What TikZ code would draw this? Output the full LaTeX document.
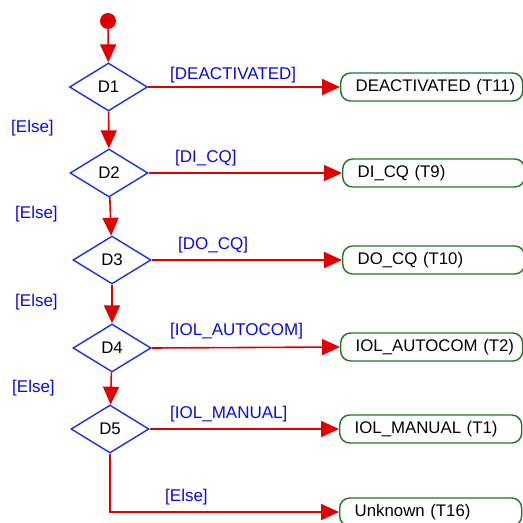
\documentclass[tikz,border=0pt]{standalone}
\usepackage{fontspec}
\setmainfont{Liberation Sans}
\usetikzlibrary{shapes.geometric,arrows.meta}
\definecolor{flowred}{RGB}{225,0,0}
\definecolor{guardblue}{RGB}{10,10,230}
\definecolor{decblue}{RGB}{25,50,220}
\definecolor{endgreen}{RGB}{30,120,30}
\begin{document}
\begin{tikzpicture}[
  x=1pt, y=-1pt,
  font=\fontsize{16.8}{18}\selectfont,
  decision/.style={draw=decblue, line width=1.4pt, diamond, minimum width=78pt, minimum height=48pt, inner sep=0pt},
  endstate/.style={draw=endgreen, line width=1.4pt, rounded corners=10pt, minimum height=28pt, text width=152pt, inner xsep=15pt, align=left},
  guard/.style={text=guardblue, anchor=west, inner sep=0pt, font=\fontsize{17}{18}\selectfont},
  flow/.style={draw=flowred, line width=1.6pt, -{Triangle[length=18pt,width=16pt]}}
]
\useasboundingbox (0,0) rectangle (523,523);
\node[circle, fill=flowred, minimum size=16pt, inner sep=0pt] (start) at (108,21) {};
\node[decision] (d1) at (108.5,87) {D1};
\node[decision] (d2) at (109,173) {D2};
\node[decision] (d3) at (112,260) {D3};
\node[decision] (d4) at (112,348) {D4};
\node[decision] (d5) at (110,429) {D5};
\node[endstate, anchor=west] (t11) at (340,87) {DEACTIVATED~(T11)};
\node[endstate, anchor=west] (t9) at (342,173) {DI\_CQ~(T9)};
\node[endstate, anchor=west] (t10) at (342,260) {DO\_CQ~(T10)};
\node[endstate, anchor=west] (t2) at (340,347) {IOL\_AUTOCOM~(T2)};
\node[endstate, anchor=west] (t1) at (339,429) {IOL\_MANUAL~(T1)};
\node[endstate, anchor=west] (t16) at (339,512) {Unknown~(T16)};
% else branches
\draw[flow] (start) -- (d1);
\draw[flow] (d1) -- (d2);
\draw[flow] (d2) -- (d3);
\draw[flow] (d3) -- (d4);
\draw[flow] (d4) -- (d5);
\draw[flow] (d5.south) |- (t16.west);
% guarded branches
\draw[flow] (d1.east) -- (t11.west);
\draw[flow] (d2.east) -- (t9.west);
\draw[flow] (d3.east) -- (t10.west);
\draw[flow] (d4.east) -- (t2.west);
\draw[flow] (d5.east) -- (t1.west);
\node[guard] (g11) at (170,75) {[DEACTIVATED]};
\node[guard] (g9) at (175,158) {[DI\_CQ]};
\node[guard] (g10) at (178,245) {[DO\_CQ]};
\node[guard] (g2) at (170,331) {[IOL\_AUTOCOM]};
\node[guard] (g1) at (170,414) {[IOL\_MANUAL]};
\node[guard] (g16) at (165,497) {[Else]};
\node[guard] (e1) at (11,128) {[Else]};
\node[guard] (e2) at (15,214) {[Else]};
\node[guard] (e3) at (15,302) {[Else]};
\node[guard] (e4) at (12,388) {[Else]};
\end{tikzpicture}
\end{document}
